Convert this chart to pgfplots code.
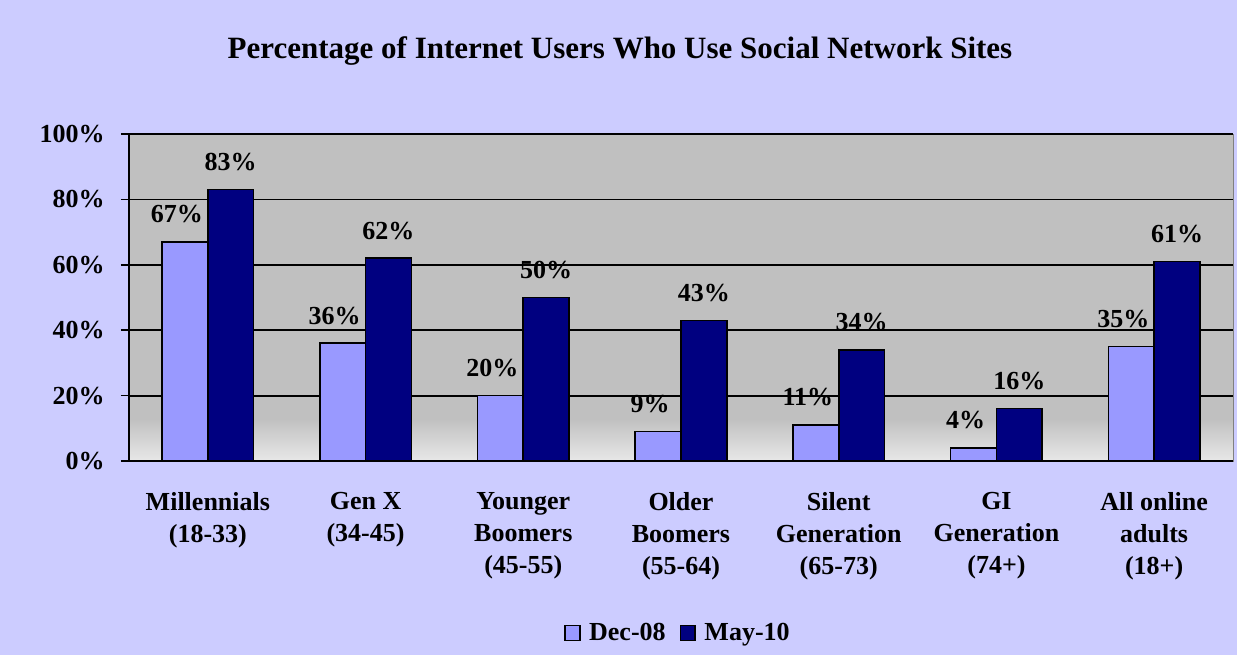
\documentclass[border=0pt]{standalone}
\usepackage{pgfplots}
\pgfplotsset{compat=1.18}
\usepackage{fontspec}
\setmainfont{Liberation Serif}
\definecolor{bg}{HTML}{CCCCFF}
\definecolor{plotgray}{HTML}{C0C0C0}
\definecolor{lightbar}{HTML}{9999FF}
\definecolor{darkbar}{HTML}{000080}
\definecolor{fadecol}{HTML}{E8E8E8}
\pgfdeclareverticalshading{plotbg}{100bp}{color(0bp)=(fadecol); color(25bp)=(fadecol); color(31.5bp)=(plotgray); color(100bp)=(plotgray)}
\begin{document}
\begin{tikzpicture}
\fill[bg] (0,0) rectangle (618.5pt,327.5pt);
\node[font=\bfseries\fontsize{15.5}{18}\selectfont] at (310pt,302pt) {Percentage of Internet Users Who Use Social Network Sites};
\begin{axis}[
  at={(64.5pt,97pt)}, anchor=south west,
  scale only axis, width=552pt, height=163.5pt,
  xmin=-0.5, xmax=6.5, ymin=0, ymax=100,
  ybar=0pt, bar width=0.29,
  axis background/.style={shading=plotbg, draw=gray},
  axis x line*=bottom, axis y line*=left,
  axis line style={black, line width=1pt},
  tick align=outside,
  major tick length=4pt, minor tick length=4pt,
  tick style={black, line width=0.8pt},
  xtick={0,1,2,3,4,5,6},
  xtick style={draw=none},
  minor xtick={-0.5,0.5,1.5,2.5,3.5,4.5,5.5,6.5},
  xticklabels={{Millennials\\(18-33)},{Gen X\\(34-45)},{Younger\\Boomers\\(45-55)},{Older\\Boomers\\(55-64)},{Silent\\Generation\\(65-73)},{GI\\Generation\\(74+)},{All online\\adults\\(18+)}},
  xticklabel style={align=center, anchor=north, inner sep=0pt, yshift=-11.5pt, font=\bfseries\fontsize{13}{16}\selectfont},
  ytick={0,20,40,60,80,100},
  yticklabels={0\%,20\%,40\%,60\%,80\%,100\%},
  yticklabel style={inner sep=0pt, xshift=-8pt, font=\bfseries\fontsize{13}{16}\selectfont},
  ymajorgrids, grid style={black, line width=0.9pt},
  /pgf/number format/assume math mode=true,
  nodes near coords={\pgfmathprintnumber{\pgfplotspointmeta}\%},
  every node near coord/.append style={font=\bfseries\fontsize{13}{16}\selectfont, anchor=south, inner sep=0pt, yshift=9pt},
  legend style={at={(rel axis cs:0.4973,-0.526)}, anchor=center, draw=none, fill=none,
    font=\bfseries\fontsize{13}{16}\selectfont, legend columns=2,
    /tikz/every even column/.append style={column sep=6pt},
    /tikz/every odd column/.append style={column sep=0pt},
    nodes={inner sep=1pt}},
  legend image code/.code={\path[draw=none, fill=none] (0pt,0pt) -- (11pt,0pt); \draw[#1, line width=0.8pt] (0pt,-3.7pt) rectangle (7.4pt,3.7pt);},
]
\addplot[fill=lightbar, draw=black, line width=0.8pt, every node near coord/.append style={xshift=-4pt}] coordinates {(0,67) (1,36) (2,20) (3,9) (4,11) (5,4) (6,35)};
\addplot[fill=darkbar, draw=black, line width=0.8pt] coordinates {(0,83) (1,62) (2,50) (3,43) (4,34) (5,16) (6,61)};
\legend{Dec-08, May-10}
\end{axis}
\end{tikzpicture}
\end{document}
